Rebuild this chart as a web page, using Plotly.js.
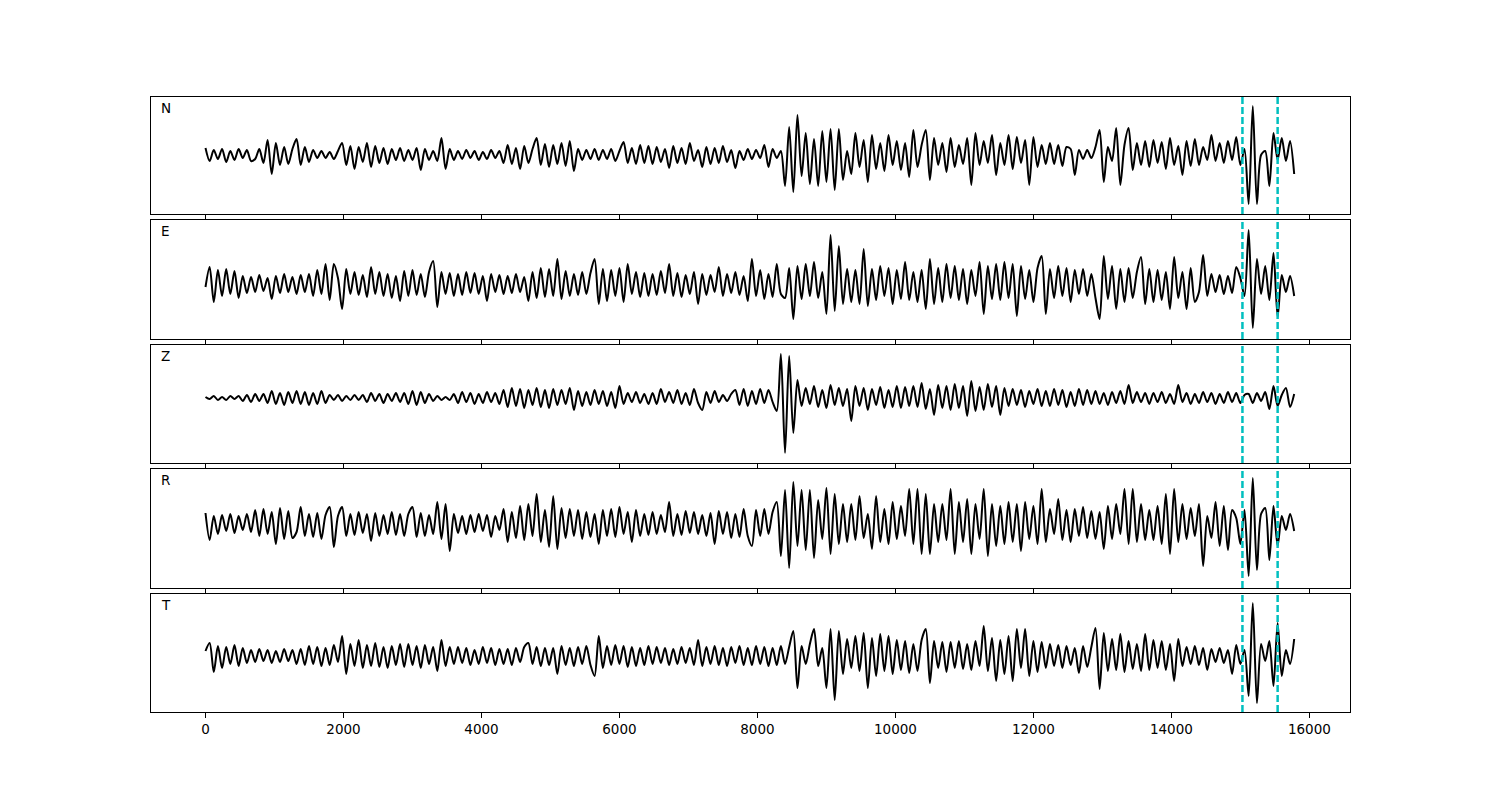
<!DOCTYPE html>
<html>
<head>
<meta charset="utf-8">
<script src="https://cdn.plot.ly/plotly-3.0.1.min.js"></script>
<style>html,body{margin:0;padding:0;background:#fff;} #chart{width:1500px;height:800px;}</style>
</head>
<body>
<div id="chart"></div>
<script>
// ---- data (amplitude in display units, sample spacing in samples) ----
const sampleStart = 0;
const sampleStep = 60;
const componentNames = ["N", "E", "Z", "R", "T"];
const pickSamples = [15030, 15540];
const xTickValues = [0, 2000, 4000, 6000, 8000, 10000, 12000, 14000, 16000];
const xLimits = [-790, 16589];

const nVals = [
  7,-6,5,-4,6,-7,4,-5,6,-3,5,-6,
  -4,6,-8,15,-19,12,-10,8,-9,6,16,-10,
  8,-7,5,-3,4,-3,3,-4,4,12,-10,9,
  -14,8,-7,12,-12,9,-8,7,-9,6,-5,7,
  -6,5,-5,7,-15,6,-5,4,-6,17,-14,6,
  -5,4,-4,5,-3,4,-5,3,-4,5,-3,4,
  -8,10,-9,7,-14,9,-8,6,17,-10,11,-12,
  10,-9,12,-11,14,-16,6,-5,5,-4,6,-5,
  5,-4,6,-6,4,13,-8,7,-9,10,-8,9,
  -9,8,-7,6,-13,9,-8,7,-9,12,-6,5,
  -12,8,-9,7,-8,9,-7,5,-13,4,-5,6,
  -4,5,-3,10,-12,6,-3,4,-31,28,-37,40,
  -21,22,-29,16,-31,24,-27,26,-35,26,-25,4,
  -19,22,-12,15,-27,20,-14,12,-16,20,-10,14,
  -15,12,-22,25,-12,10,25,-25,17,-10,12,-17,
  17,-12,10,-9,17,-30,22,-10,14,-8,20,-20,
  12,-10,20,-14,18,-8,15,-30,18,-12,10,-9,
  12,-9,10,-11,8,6,-20,5,-4,5,-3,8,
  25,-27,8,-6,27,-30,10,27,-15,12,-10,14,
  -12,15,-8,13,-14,17,-10,9,-20,14,-11,16,
  -10,8,-5,20,-6,12,-8,14,-5,18,-10,6,
  -49,49,-49,0,4,-31,22,-5,17,-6,14,-19
];
const eVals = [
  -3,17,-18,14,-12,15,-10,13,-14,8,-9,7,
  -8,9,-7,6,-15,8,-9,10,-8,7,-10,9,
  -8,10,-12,14,-10,20,-16,20,6,-25,15,-10,
  12,-11,9,-13,17,-10,12,-12,10,-14,8,-17,
  13,-12,14,-11,10,-13,12,23,-23,12,-10,11,
  -12,10,-11,12,-9,11,-10,8,-17,10,-8,9,
  -10,8,-9,10,-8,7,-17,12,-14,16,-13,15,
  -12,25,-15,13,-12,10,-11,12,-10,11,25,-20,
  15,-17,14,-12,16,-18,20,-10,12,-13,11,-12,
  10,-11,13,-9,20,-12,11,-13,9,-10,12,-20,
  10,-11,9,-8,17,-12,10,-9,12,-11,8,-17,
  25,-12,14,-15,10,-13,20,-10,-14,16,-35,18,
  -15,20,-12,22,-14,12,-30,49,-27,38,-20,15,
  -18,14,-20,35,-22,15,-16,18,-12,16,-20,14,
  -15,22,-16,12,-18,14,-25,25,-20,16,-18,20,
  -14,18,-16,15,-20,14,-12,22,-30,18,-15,20,
  -16,22,-14,20,-32,18,-15,14,-18,16,28,-30,
  15,-14,18,-12,16,-18,14,-10,15,-12,10,-14,
  -35,28,-15,18,-25,15,-18,16,-14,12,27,-20,
  15,-18,14,-16,12,-25,27,-14,12,-25,16,-18,
  -8,29,-12,10,-8,9,-10,8,-9,17,6,-12,
  54,-44,25,-10,18,-16,31,-33,9,-8,8,-12
];
const zVals = [
  1,-1,2,-2,1,-2,2,-1,2,-3,3,-4,
  4,-3,4,-5,7,-6,5,-7,6,-5,7,-6,
  6,-7,5,-6,7,-5,3,-2,3,-3,2,-2,
  3,-2,3,-4,5,-3,4,-5,4,-3,5,-4,
  5,-6,7,-7,6,-5,4,-3,2,-2,1,-2,
  4,-5,6,-4,5,-6,4,-5,6,-4,5,-6,
  8,-9,10,-8,9,-10,8,-7,10,-9,8,-10,
  9,-7,8,-6,10,-12,7,-8,6,-7,8,-6,
  7,-8,6,-10,12,-6,5,-4,6,-5,4,-6,
  5,-6,9,-4,6,-5,8,-6,5,-7,9,-5,
  -12,6,-5,7,-4,3,-3,4,8,-7,9,-8,
  7,-6,9,-5,8,-4,-13,44,-55,42,-35,18,
  -8,10,-6,12,-9,8,-10,13,-7,10,-8,9,
  -23,12,-8,10,-12,9,-7,11,-10,8,-9,12,
  -10,11,-8,12,-9,15,-11,9,-17,13,-10,12,
  -12,14,-10,12,-18,17,-13,11,-12,14,-9,12,
  -17,10,-8,9,-7,8,-9,7,-6,9,-8,7,
  -8,9,-7,8,-9,6,-8,9,-7,8,-6,7,
  -6,5,-7,6,-5,7,-6,13,-5,6,-4,5,
  -6,5,-4,6,-5,4,-6,13,-4,5,-6,4,
  -5,6,-4,5,-6,4,-5,6,-4,5,-5,3,
  4,-5,5,-3,6,-11,12,-8,3,10,-9,4
];
const rVals = [
  11,-16,8,-10,9,-7,10,-9,8,-6,10,-8,
  14,-12,15,-10,12,-20,16,-15,13,-14,-8,17,
  -12,10,-13,11,-15,9,17,-23,8,17,-12,10,
  -11,12,-9,10,-17,11,-12,9,-10,12,-11,10,
  -12,10,17,-13,11,-12,9,-10,22,-15,20,-27,
  10,-9,8,-10,9,-8,10,-7,9,-13,8,-6,
  15,-18,12,-14,18,-16,20,-12,30,-18,14,-23,
  28,-25,16,-14,15,-12,14,-15,12,-13,10,-20,
  14,-12,15,-13,17,-10,12,-18,14,-12,10,-11,
  12,-10,9,-8,22,-12,10,-11,13,-9,12,-10,
  9,-12,11,-20,13,-10,12,-14,10,-13,15,-12,
  -22,14,-12,15,-10,12,22,-32,34,-44,42,-22,
  34,-26,34,-34,24,-15,36,-30,30,-20,20,-18,
  20,-16,28,-14,10,-25,28,-18,15,-20,22,-15,
  18,-12,35,-20,35,-30,30,-30,20,-18,20,-16,
  35,-30,22,-18,25,-30,20,-15,35,-32,20,-22,
  18,-20,22,-18,20,-27,22,-15,18,-20,35,-18,
  15,-10,25,-16,14,-18,15,-12,17,-14,13,-15,
  12,-25,18,-15,20,-10,35,-20,35,-18,20,-16,
  14,-16,18,-20,30,-30,35,-18,20,-15,16,-12,
  20,-42,8,-14,22,-22,18,-26,14,6,-20,14,
  -52,46,-46,10,16,-36,18,-22,8,-6,10,-7
];
const tVals = [
  5,13,-16,10,-12,9,-8,11,-10,8,-7,6,
  -6,7,-5,6,-7,5,-6,7,-5,6,-8,7,
  -9,10,-8,9,-10,8,-9,11,-6,20,-18,12,
  -10,16,-12,11,-10,13,-11,9,-12,10,-9,12,
  -11,12,-9,10,-12,11,-8,9,-15,16,-10,9,
  -8,9,-7,8,-9,6,-8,9,-7,8,-9,7,
  -8,7,-9,8,-6,9,13,-8,9,-10,8,-9,
  8,-18,10,-9,8,-10,9,-8,10,-9,-20,20,
  -12,10,-9,11,-8,10,-11,9,-10,8,-9,10,
  -8,9,-7,8,-9,7,-8,9,-7,8,-9,16,
  -10,9,-8,10,-9,8,-10,9,-7,10,-9,8,
  -9,10,-8,9,-10,8,-9,10,-8,9,25,-32,
  10,-8,12,27,-10,8,-32,27,-44,25,-18,17,
  -12,20,-15,23,-32,18,-20,22,-15,20,-18,16,
  -14,15,-17,12,-15,16,27,-27,15,-12,14,-16,
  14,-12,15,-13,12,-14,15,-10,30,-15,18,-25,
  16,-18,20,-25,27,-12,27,-20,15,-16,14,-12,
  12,-10,11,-12,10,-9,8,-17,10,-11,9,28,
  -33,23,-15,17,-14,22,-16,15,-13,12,-15,22,
  -14,16,-12,15,-14,12,-25,17,-10,9,-8,10,
  -9,8,-14,7,-6,8,-7,6,-18,11,-8,6,
  -40,53,-47,12,-5,15,-30,33,-20,6,-8,17
];
// vertical limits of each panel (display units)
const yLimits = [[-59, 58], [-55, 64], [-65, 53], [-64, 55], [-56, 62]];

// ---- build figure ----
const series = [nVals, eVals, zVals, rVals, tVals];
// panel pixel extents (top, bottom) inside the 97..712 plot block
const plotTop = 97, plotBottom = 712;
const panelPx = [[97, 214], [220, 339], [345, 463], [469, 588], [594, 712]];
const H = plotBottom - plotTop;

const traces = [];
const layout = {
  width: 1500, height: 800,
  margin: {l: 151, r: 150, t: 97, b: 88},
  paper_bgcolor: '#ffffff', plot_bgcolor: '#ffffff',
  showlegend: false,
  font: {family: 'DejaVu Sans, sans-serif', size: 13.5, color: '#000'},
  shapes: [], annotations: []
};

series.forEach((vals, k) => {
  const idx = k === 0 ? '' : String(k + 1);
  const xs = vals.map((_, i) => sampleStart + i * sampleStep);
  traces.push({
    type: 'scatter', mode: 'lines', x: xs, y: vals,
    xaxis: 'x' + idx, yaxis: 'y' + idx,
    line: {color: '#000000', width: 2, shape: 'spline', smoothing: 0.8},
    hoverinfo: 'skip'
  });
  const dom = [(plotBottom - panelPx[k][1]) / H, (plotBottom - panelPx[k][0]) / H];
  layout['xaxis' + idx] = {
    domain: [0, 1], anchor: 'y' + idx, range: xLimits,
    tickmode: 'array', tickvals: xTickValues,
    ticktext: xTickValues.map(String),
    showticklabels: k === series.length - 1,
    ticks: 'outside', ticklen: 5, tickwidth: 1, tickcolor: '#000',
    showline: true, mirror: true, linecolor: '#000', linewidth: 1,
    showgrid: false, zeroline: false,
    tickfont: {family: 'DejaVu Sans, sans-serif', size: 13.5, color: '#000'}
  };
  layout['yaxis' + idx] = {
    domain: dom, anchor: 'x' + idx, range: yLimits[k],
    showticklabels: false, ticks: '',
    showline: true, mirror: true, linecolor: '#000', linewidth: 1,
    showgrid: false, zeroline: false
  };
  pickSamples.forEach(p => {
    layout.shapes.push({
      type: 'line', xref: 'x' + idx, yref: 'y' + idx + ' domain',
      x0: p, x1: p, y0: 0, y1: 1,
      line: {color: '#00bfbf', width: 2.5, dash: '7px,3px'}, layer: 'above'
    });
  });
  layout.annotations.push({
    xref: 'x' + idx + ' domain', yref: 'y' + idx + ' domain',
    x: 0.007, y: 0.905, xanchor: 'left', yanchor: 'middle',
    text: componentNames[k], showarrow: false,
    font: {family: 'DejaVu Sans, sans-serif', size: 13.5, color: '#000'}
  });
});

Plotly.newPlot('chart', traces, layout, {staticPlot: true, displayModeBar: false});
</script>
</body>
</html>
